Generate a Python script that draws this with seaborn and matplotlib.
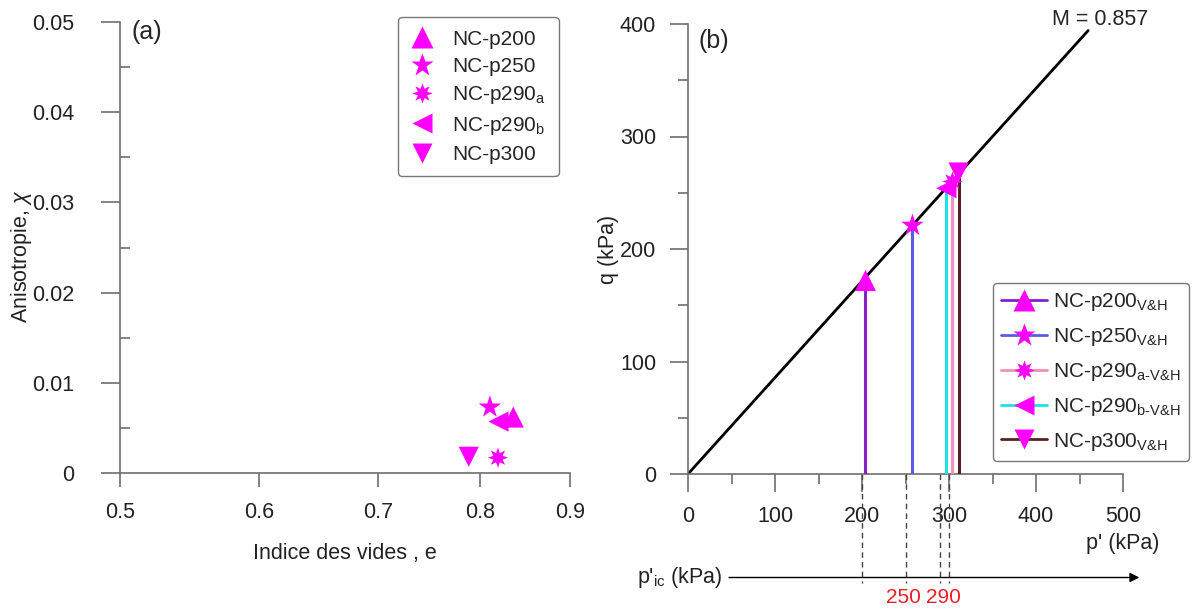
import numpy as np
import pandas as pd
import matplotlib
matplotlib.use("Agg")
import matplotlib.pyplot as plt
import seaborn as sns
from matplotlib.lines import Line2D
from matplotlib.ticker import MultipleLocator, FixedLocator, FuncFormatter

# ---------------- data ----------------
# Panel (a): anisotropy vs void ratio
samples_a = ["NC-p200", "NC-p250", "NC-p290$_{a}$", "NC-p290$_{b}$", "NC-p300"]
void_ratio = [0.837, 0.811, 0.820, 0.8205, 0.789]
anisotropy = [0.0062, 0.0073, 0.0017, 0.0057, 0.0018]
e_ticks = [0.5, 0.6, 0.7, 0.8, 0.9]
chi_ticks = [0.0, 0.01, 0.02, 0.03, 0.04, 0.05]

# Panel (b): stress paths q vs p'
samples_b = ["NC-p200$_{V&H}$", "NC-p250$_{V&H}$", "NC-p290$_{a\u2010V&H}$",
             "NC-p290$_{b\u2010V&H}$", "NC-p300$_{V&H}$"]
p_path = [204, 258, 304, 297, 311]        # p' of each (vertical) path, kPa
q_top = [172, 221, 260, 254, 268]          # q at failure, kPa
M_slope = 0.857
p_ic_marks = [200, 250, 290, 300]
p_ic_red = ["250", "290"]
p_ticks = [0, 100, 200, 300, 400, 500]
q_ticks = [0, 100, 200, 300, 400]

# ---------------- style ----------------
sns.set_theme(style="ticks")
plt.rcParams["font.family"] = ["Liberation Sans", "DejaVu Sans"]
plt.rcParams["mathtext.default"] = "regular"
plt.rcParams["mathtext.fontset"] = "custom"
plt.rcParams["mathtext.rm"] = "Liberation Sans"
plt.rcParams["mathtext.it"] = "Liberation Sans:italic"

MAG = "#FF00FF"
path_colors = ["#8A1FC8", "#5B5BE8", "#F090B8", "#19E3E3", "#5A2020"]
markers = ["^", "*", (8, 1, 0), "<", "v"]
msizes = [230, 290, 210, 210, 210]
SPINE = "#6E6E6E"
TXT = "#222222"

fig = plt.figure(figsize=(11.92, 6.12), dpi=100)
ax_a = fig.add_axes([120 / 1192, 1 - 473 / 612, 450 / 1192, 451 / 612])
ax_b = fig.add_axes([688 / 1192, 1 - 474 / 612, 435 / 1192, 450 / 612])

# ---------------- panel (a) ----------------
# non-uniform e axis (as in the original figure)
knots_e = [0.4, 0.5, 0.6, 0.7, 0.8, 0.9, 1.0]
knots_u = [-139, 0, 139, 258, 360, 450, 540]
ax_a.set_xscale("function",
                functions=(lambda x: np.interp(x, knots_e, knots_u),
                           lambda u: np.interp(u, knots_u, knots_e)))

df_a = pd.DataFrame({"e": void_ratio, "chi": anisotropy, "sample": samples_a})
sns.scatterplot(data=df_a, x="e", y="chi", style="sample", size="sample",
                markers=dict(zip(samples_a, markers)),
                sizes=dict(zip(samples_a, msizes)),
                color=MAG, edgecolor="none", legend=False, ax=ax_a, zorder=5, clip_on=False)

ax_a.set_xlim(0.5, 0.9)
ax_a.set_ylim(0, 0.05)
ax_a.xaxis.set_major_locator(FixedLocator(e_ticks))
ax_a.xaxis.set_major_formatter(FuncFormatter(lambda v, p: f"{v:.1f}"))
ax_a.xaxis.set_minor_locator(FixedLocator([]))
ax_a.yaxis.set_major_locator(FixedLocator(chi_ticks))
ax_a.yaxis.set_minor_locator(MultipleLocator(0.005))
ax_a.yaxis.set_major_formatter(FuncFormatter(lambda v, p: "0" if abs(v) < 1e-9 else f"{v:.2f}"))
ax_a.set_xlabel("Indice des vides , e", fontsize=15.5, labelpad=14, color=TXT)
ax_a.set_ylabel("Anisotropie, $\\mathit{\\chi}$", fontsize=15.5, color=TXT)
ax_a.yaxis.set_label_coords(-0.19, 0.48)
ax_a.tick_params(axis="y", which="major", direction="out", length=14, width=1.2, pad=19,
                 labelsize=15.5, color=SPINE)
ax_a.tick_params(axis="y", which="minor", direction="in", length=7, width=1.2, color=SPINE)
ax_a.tick_params(axis="x", which="major", direction="out", length=10, width=1.2, pad=11,
                 labelsize=15.5, color=SPINE)
ax_a.text(0.508, 0.0489, "(a)", fontsize=18, ha="left", va="center")

h_a = [Line2D([], [], ls="none", marker=m, color=MAG, mec="none",
              markersize=np.sqrt(s)) for m, s in zip(markers, msizes)]
leg_a = ax_a.legend(h_a, samples_a, loc="upper left", bbox_to_anchor=(0.618, 1.011),
                    fontsize=15, frameon=True, fancybox=True, handlelength=1.1,
                    handletextpad=0.9, labelspacing=0.4, borderpad=0.6, borderaxespad=0)
leg_a.get_frame().set_edgecolor("#555555")
leg_a.get_frame().set_linewidth(1.0)

# ---------------- panel (b) ----------------
rows = []
for s, p, q in zip(samples_b, p_path, q_top):
    rows.append({"sample": s, "p": p, "q": 0.0, "i": 0})
    rows.append({"sample": s, "p": p, "q": q, "i": 1})
df_b = pd.DataFrame(rows)
sns.lineplot(data=df_b, x="p", y="q", hue="sample", palette=dict(zip(samples_b, path_colors)),
             estimator=None, sort=False, units="sample", lw=2.2, legend=False, ax=ax_b, zorder=3)

# critical state line
p_line = np.array([0, 460])
ax_b.plot(p_line, M_slope * p_line, color="black", lw=2.0, zorder=2)

df_top = pd.DataFrame({"p": p_path, "q": q_top, "sample": samples_b})
sns.scatterplot(data=df_top, x="p", y="q", style="sample", size="sample",
                markers=dict(zip(samples_b, markers)), sizes=dict(zip(samples_b, msizes)),
                color=MAG, edgecolor="none", legend=False, ax=ax_b, zorder=5, clip_on=False)

ax_b.set_xlim(0, 500)
ax_b.set_ylim(0, 400)
ax_b.xaxis.set_major_locator(FixedLocator(p_ticks))
ax_b.xaxis.set_minor_locator(MultipleLocator(50))
ax_b.yaxis.set_major_locator(FixedLocator(q_ticks))
ax_b.yaxis.set_minor_locator(MultipleLocator(50))
ax_b.set_xlabel("")
ax_b.set_ylabel("q (kPa)", fontsize=15.5, color=TXT)
ax_b.yaxis.set_label_coords(-0.158, 0.5)
ax_b.tick_params(axis="both", which="major", direction="out", length=13, width=1.2, pad=10,
                 labelsize=15.5, color=SPINE)
ax_b.tick_params(axis="both", which="minor", direction="out", length=7, width=1.2, color=SPINE)
for t in ax_b.get_xticklabels():
    t.set_bbox(dict(facecolor="white", edgecolor="none", pad=1))

ax_b.text(542, -62, "p' (kPa)", fontsize=15.5, ha="right", va="center", color=TXT)
ax_b.text(12, 385, "(b)", fontsize=18, ha="left", va="center")
ax_b.text(474, 404, "M = 0.857", fontsize=15.5, ha="center", va="center")

# p'_ic arrow and marks
ax_b.annotate("", xy=(522, -92), xytext=(44, -92), annotation_clip=False,
              arrowprops=dict(arrowstyle="-|>", color="black", lw=1.0, mutation_scale=14))
ax_b.text(40, -92, "p'$_{ic}$ (kPa)", fontsize=15.5, ha="right", va="center", color=TXT)
for pm in p_ic_marks:
    ax_b.plot([pm, pm], [0, -97], ls=(0, (4, 3)), color="#444444", lw=1.0,
              clip_on=False, zorder=1)
ax_b.text(268, -110, p_ic_red[0], fontsize=15, color="#E8202A", ha="right", va="center")
ax_b.text(273, -110, p_ic_red[1], fontsize=15, color="#E8202A", ha="left", va="center")

h_b = [Line2D([], [], color=c, lw=2, marker=m, markerfacecolor=MAG, mec="none",
              markersize=np.sqrt(s)) for c, m, s in zip(path_colors, markers, msizes)]
leg_b = ax_b.legend(h_b, samples_b, loc="upper left", bbox_to_anchor=(0.70, 0.425),
                    fontsize=15, frameon=True, fancybox=True, handlelength=2.2,
                    handletextpad=0.3, labelspacing=0.62, borderpad=0.4, borderaxespad=0)
leg_b.get_frame().set_edgecolor("#555555")
leg_b.get_frame().set_linewidth(1.0)

for ax in (ax_a, ax_b):
    sns.despine(ax=ax)
    for sp in ("left", "bottom"):
        ax.spines[sp].set_color(SPINE)
        ax.spines[sp].set_linewidth(1.2)
    ax.tick_params(labelcolor=TXT)

fig.savefig("out.png", dpi=100)
